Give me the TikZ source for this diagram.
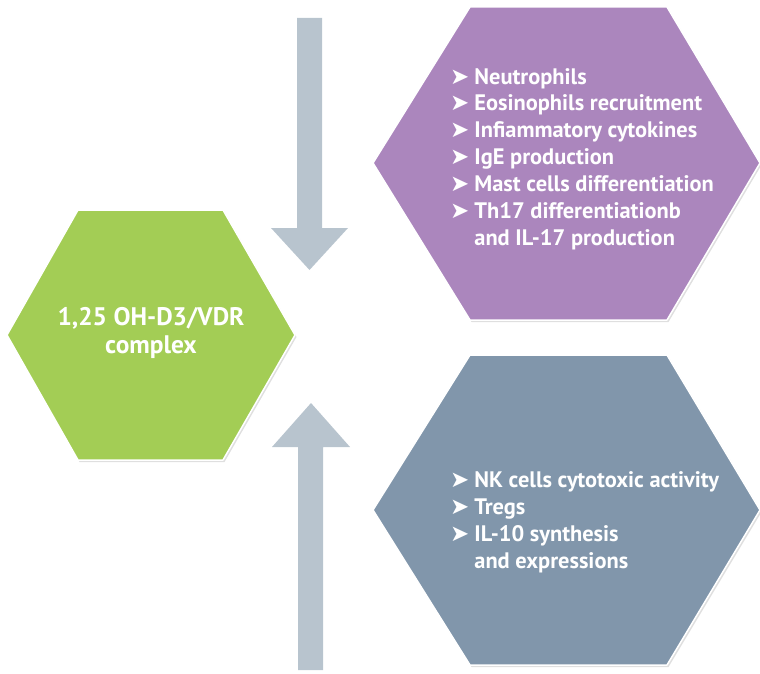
\documentclass[tikz,border=0pt]{standalone}
\usepackage{fontspec}
\setmainfont{PT Sans}
\newfontfamily\symfont{DejaVu Sans}
\usepackage{tikz}
\usetikzlibrary{positioning,shadows}
\definecolor{vdgreen}{RGB}{163,205,85}
\definecolor{vdpurple}{RGB}{171,134,189}
\definecolor{vdslate}{RGB}{129,150,171}
\definecolor{vdarrow}{RGB}{184,196,206}
\newcommand{\bul}{{\symfont\fontsize{23}{23}\selectfont ➤}\hspace{5bp}}
\newcommand{\bulgap}{\phantom{\bul}}

\begin{document}
\begin{tikzpicture}[x=1bp,y=-1bp,
    hexbox/.style={draw=white,line width=1.5bp,line join=round,
                   drop shadow={opacity=0.25,shadow xshift=1.5bp,shadow yshift=-2bp}},
    blockarrow/.style={fill=vdarrow},
    hextext/.style={text=white,font=\fontsize{22.5}{27}\selectfont\bfseries,inner sep=0pt}]
    \useasboundingbox (0,0) rectangle (760,674);

    % arrows
    \fill[blockarrow] (297,18) -- (322,18) -- (322,228) -- (348,228) -- (309.5,270)
        -- (271,228) -- (297,228) -- cycle;
    \fill[blockarrow] (298,670) -- (323,670) -- (323,447) -- (350,447) -- (311,403)
        -- (272,447) -- (298,447) -- cycle;

    % hexagons
    \draw[hexbox,fill=vdgreen] (7,335) -- (78,210) -- (223,210) -- (295,335)
        -- (223,460) -- (78,460) -- cycle;
    \draw[hexbox,fill=vdpurple] (373,163) -- (470,7) -- (667,7) -- (760,163)
        -- (667,320) -- (470,320) -- cycle;
    \draw[hexbox,fill=vdslate] (373,510) -- (470,355) -- (667,355) -- (760,510)
        -- (667,665) -- (470,665) -- cycle;

    % texts
    \node[hextext,font=\fontsize{25.5}{29}\selectfont\bfseries,align=center] (vdr)
        at (151,333) {1,25 OH-D3/VDR\\complex};
    \node[hextext,align=left,anchor=west] (upper) at (450,159) {%
        \bul Neutrophils\\
        \bul Eosinophils recruitment\\
        \bul Infiammatory cytokines\\
        \bul IgE production\\
        \bul Mast cells differentiation\\
        \bul Th17 differentiationb\\
        \bulgap and IL-17 production};
    \node[hextext,align=left,anchor=west] (lower) at (450,522) {%
        \bul NK cells cytotoxic activity\\
        \bul Tregs\\
        \bul IL-10 synthesis\\
        \bulgap and expressions};
\end{tikzpicture}
\end{document}
